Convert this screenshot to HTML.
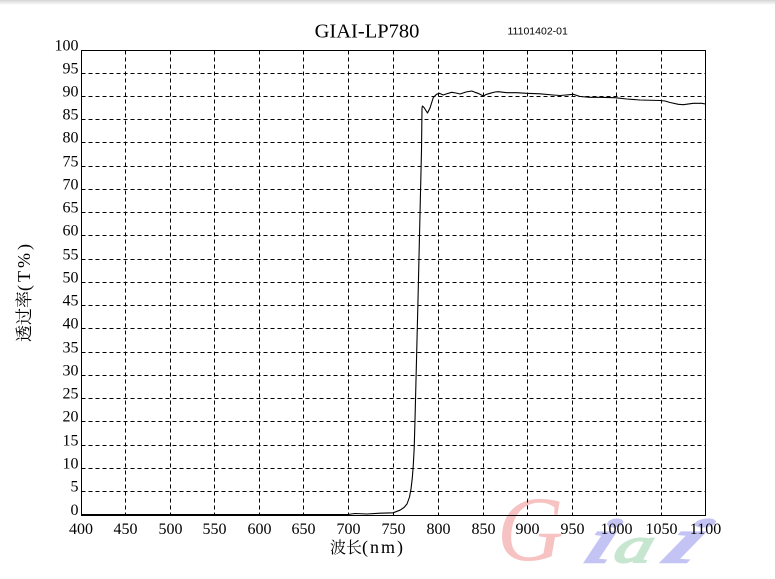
<!DOCTYPE html>
<html>
<head>
<meta charset="utf-8">
<style>
  html, body { margin: 0; padding: 0; background: #ffffff; }
  body { width: 775px; height: 579px; overflow: hidden; position: relative; }
  svg { position: absolute; left: 0; top: 0; }
</style>
</head>
<body>
<svg width="775" height="579" viewBox="0 0 775 579" xmlns="http://www.w3.org/2000/svg">
  <defs>
    <linearGradient id="topsh" x1="0" y1="0" x2="0" y2="1">
      <stop offset="0" stop-color="#d4d4d4"/>
      <stop offset="1" stop-color="#ffffff"/>
    </linearGradient>
  </defs>
  <rect x="0" y="0" width="775" height="579" fill="#ffffff"/>
  <rect x="0" y="0" width="775" height="5" fill="url(#topsh)"/>

  <!-- watermark logo -->
  <g font-family="Liberation Serif, serif" font-style="italic">
    <text x="497" y="560" font-size="92" fill="#f6c2c2">G</text>
    <text transform="translate(580,562) scale(1.7,1) skewX(-12)" font-size="64" fill="#c4c4f4" stroke="#c4c4f4" stroke-width="2.5">i</text>
    <text transform="translate(612,562) scale(1.5,1) skewX(-10)" font-size="50" fill="#c6e6d0" stroke="#c6e6d0" stroke-width="2">a</text>
    <text transform="translate(655,562) scale(2.2,1) skewX(-15)" font-size="64" fill="#c4c4f4" stroke="#c4c4f4" stroke-width="2.5">i</text>
  </g>

  <!-- grid -->
  <g stroke="#000" stroke-width="1" stroke-dasharray="4,3" fill="none">
    <line x1="81.5" y1="73.5" x2="705.5" y2="73.5"/>
    <line x1="81.5" y1="96.5" x2="705.5" y2="96.5"/>
    <line x1="81.5" y1="119.5" x2="705.5" y2="119.5"/>
    <line x1="81.5" y1="142.5" x2="705.5" y2="142.5"/>
    <line x1="81.5" y1="166.5" x2="705.5" y2="166.5"/>
    <line x1="81.5" y1="189.5" x2="705.5" y2="189.5"/>
    <line x1="81.5" y1="212.5" x2="705.5" y2="212.5"/>
    <line x1="81.5" y1="235.5" x2="705.5" y2="235.5"/>
    <line x1="81.5" y1="259.5" x2="705.5" y2="259.5"/>
    <line x1="81.5" y1="282.5" x2="705.5" y2="282.5"/>
    <line x1="81.5" y1="305.5" x2="705.5" y2="305.5"/>
    <line x1="81.5" y1="328.5" x2="705.5" y2="328.5"/>
    <line x1="81.5" y1="352.5" x2="705.5" y2="352.5"/>
    <line x1="81.5" y1="375.5" x2="705.5" y2="375.5"/>
    <line x1="81.5" y1="398.5" x2="705.5" y2="398.5"/>
    <line x1="81.5" y1="421.5" x2="705.5" y2="421.5"/>
    <line x1="81.5" y1="445.5" x2="705.5" y2="445.5"/>
    <line x1="81.5" y1="468.5" x2="705.5" y2="468.5"/>
    <line x1="81.5" y1="491.5" x2="705.5" y2="491.5"/>

    <line x1="125.5" y1="50.5" x2="125.5" y2="515.5"/>
    <line x1="170.5" y1="50.5" x2="170.5" y2="515.5"/>
    <line x1="214.5" y1="50.5" x2="214.5" y2="515.5"/>
    <line x1="259.5" y1="50.5" x2="259.5" y2="515.5"/>
    <line x1="303.5" y1="50.5" x2="303.5" y2="515.5"/>
    <line x1="348.5" y1="50.5" x2="348.5" y2="515.5"/>
    <line x1="393.5" y1="50.5" x2="393.5" y2="515.5"/>
    <line x1="438.5" y1="50.5" x2="438.5" y2="515.5"/>
    <line x1="483.5" y1="50.5" x2="483.5" y2="515.5"/>
    <line x1="527.5" y1="50.5" x2="527.5" y2="515.5"/>
    <line x1="572.5" y1="50.5" x2="572.5" y2="515.5"/>
    <line x1="616.5" y1="50.5" x2="616.5" y2="515.5"/>
    <line x1="661.5" y1="50.5" x2="661.5" y2="515.5"/>
  </g>

  <!-- frame -->
  <rect x="81.5" y="50.5" width="624" height="465" fill="none" stroke="#000" stroke-width="1"/>

  <!-- curve -->
  <polyline fill="none" stroke="#000" stroke-width="1.1" stroke-linejoin="round"
    points="82,514.5 348,514.5 355,513.5 367,514 380,513.2 393,512.8 400,510.2 404,507.5 407,504 409.5,497 411,489 412.3,478 413.3,465 414.2,448 415,420 418,300 421.5,150 422,108 422.5,106 424,107.5 427.5,113 430,108 433.3,97.5 436.5,94.3 439.3,93.3 443.3,95 446,94 451.7,92.3 456,93 460,94 466,92 471.7,91 475,92.3 478,93.3 483.3,96 486.7,94.3 490,93.3 495,92 498.3,91.7 506.7,92.7 516.7,92.7 526.7,93.3 540,93.8 553,95 560,95.5 566,95 573.3,94.3 580,96.5 590,97.3 600,97.3 615,97.7 626.7,99 640,100 660,100.5 665,101 670,102.5 678.3,104.3 683.3,104.7 693.3,103.3 701.7,103.3 705.5,104"/>

  <!-- y tick labels -->
  <g font-family="Liberation Serif, serif" font-size="16" fill="#000" text-anchor="end">
    <text x="78.5" y="50.5">100</text>
    <text x="78.5" y="73.5">95</text>
    <text x="78.5" y="96.5">90</text>
    <text x="78.5" y="119.5">85</text>
    <text x="78.5" y="142.5">80</text>
    <text x="78.5" y="166.5">75</text>
    <text x="78.5" y="189.5">70</text>
    <text x="78.5" y="212.5">65</text>
    <text x="78.5" y="235.5">60</text>
    <text x="78.5" y="259.5">55</text>
    <text x="78.5" y="282.5">50</text>
    <text x="78.5" y="305.5">45</text>
    <text x="78.5" y="328.5">40</text>
    <text x="78.5" y="352.5">35</text>
    <text x="78.5" y="375.5">30</text>
    <text x="78.5" y="398.5">25</text>
    <text x="78.5" y="421.5">20</text>
    <text x="78.5" y="445.5">15</text>
    <text x="78.5" y="468.5">10</text>
    <text x="78.5" y="491.5">5</text>
    <text x="78.5" y="515">0</text>
  </g>

  <!-- x tick labels -->
  <g font-family="Liberation Serif, serif" font-size="16" fill="#000" text-anchor="middle">
    <text x="81" y="534">400</text>
    <text x="125.5" y="534">450</text>
    <text x="170.5" y="534">500</text>
    <text x="214.5" y="534">550</text>
    <text x="259.5" y="534">600</text>
    <text x="303.5" y="534">650</text>
    <text x="348.5" y="534">700</text>
    <text x="393.5" y="534">750</text>
    <text x="438.5" y="534">800</text>
    <text x="483.5" y="534">850</text>
    <text x="527.5" y="534">900</text>
    <text x="572.5" y="534">950</text>
    <text x="616.5" y="534">1000</text>
    <text x="661.5" y="534">1050</text>
    <text x="705.5" y="534">1100</text>
  </g>

  <!-- title -->
  <text x="367" y="37.5" font-family="Liberation Serif, serif" font-size="20.5" fill="#000" text-anchor="middle">GIAI-LP780</text>
  <text x="507.5" y="34.5" font-family="Liberation Sans, sans-serif" font-size="10.5" fill="#000">11101402-01</text>

  <!-- axis titles -->
  <text x="367.5" y="553" text-anchor="middle" fill="#000" font-family="Liberation Serif, Noto Serif CJK SC, serif"><tspan font-size="16">波长</tspan><tspan font-size="18" letter-spacing="2">(nm)</tspan></text>
  <text transform="translate(30,291.5) rotate(-90)" text-anchor="middle" fill="#000" font-family="Liberation Serif, Noto Serif CJK SC, serif"><tspan font-size="17">透过率</tspan><tspan font-size="18" letter-spacing="3">(T%)</tspan></text>
</svg>
</body>
</html>
